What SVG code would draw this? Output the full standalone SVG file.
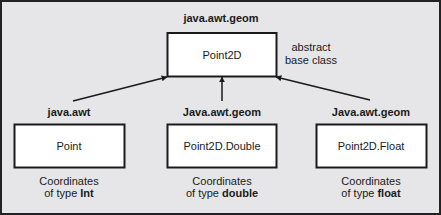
<svg xmlns="http://www.w3.org/2000/svg" width="441" height="215" viewBox="0 0 441 215">
<style>
.box{fill:#fff;stroke:#1a1a1a;stroke-width:2}
.t{font-family:"Liberation Sans",Arial,sans-serif;font-size:11px;fill:#1a1a1a;text-anchor:middle}
.b{font-weight:bold}
.c{stroke:#1a1a1a;stroke-width:1.5;fill:none}
</style>
<defs>
<marker id="ah" viewBox="0 0 10 10" refX="9" refY="5" markerWidth="6" markerHeight="6" orient="auto" markerUnits="userSpaceOnUse">
<path d="M0,0 L10,5 L0,10 z" fill="#1a1a1a"/>
</marker>
</defs>
<rect x="1" y="1" width="439" height="213" fill="#e6e6e8" stroke="#222" stroke-width="2"/>
<g id="point2d">
<text class="t b" x="221" y="22">java.awt.geom</text>
<rect class="box" x="167.5" y="33" width="109" height="43.5"/>
<text class="t" x="222" y="59">Point2D</text>
<text class="t" x="311" y="51">abstract</text>
<text class="t" x="311" y="64">base class</text>
</g>
<g id="point">
<text class="t b" x="69" y="116">java.awt</text>
<rect class="box" x="14.5" y="124.5" width="110" height="43"/>
<text class="t" x="69" y="150">Point</text>
<text class="t" x="69" y="185">Coordinates</text>
<text class="t" x="69" y="197">of type <tspan class="b">Int</tspan></text>
</g>
<g id="point2d-double">
<text class="t b" x="222" y="116">Java.awt.geom</text>
<rect class="box" x="167.5" y="124.5" width="109" height="43"/>
<text class="t" x="222" y="150">Point2D.Double</text>
<text class="t" x="222" y="185">Coordinates</text>
<text class="t" x="222" y="197">of type <tspan class="b">double</tspan></text>
</g>
<g id="point2d-float">
<text class="t b" x="371" y="116">Java.awt.geom</text>
<rect class="box" x="316.5" y="124.5" width="110" height="43"/>
<text class="t" x="371" y="150">Point2D.Float</text>
<text class="t" x="371" y="185">Coordinates</text>
<text class="t" x="371" y="197">of type <tspan class="b">float</tspan></text>
</g>
<g id="connectors">
<line class="c" x1="73" y1="101" x2="167" y2="77" marker-end="url(#ah)"/>
<line class="c" x1="222" y1="101" x2="222" y2="77" marker-end="url(#ah)"/>
<line class="c" x1="370" y1="100" x2="276" y2="77" marker-end="url(#ah)"/>
</g>
</svg>
